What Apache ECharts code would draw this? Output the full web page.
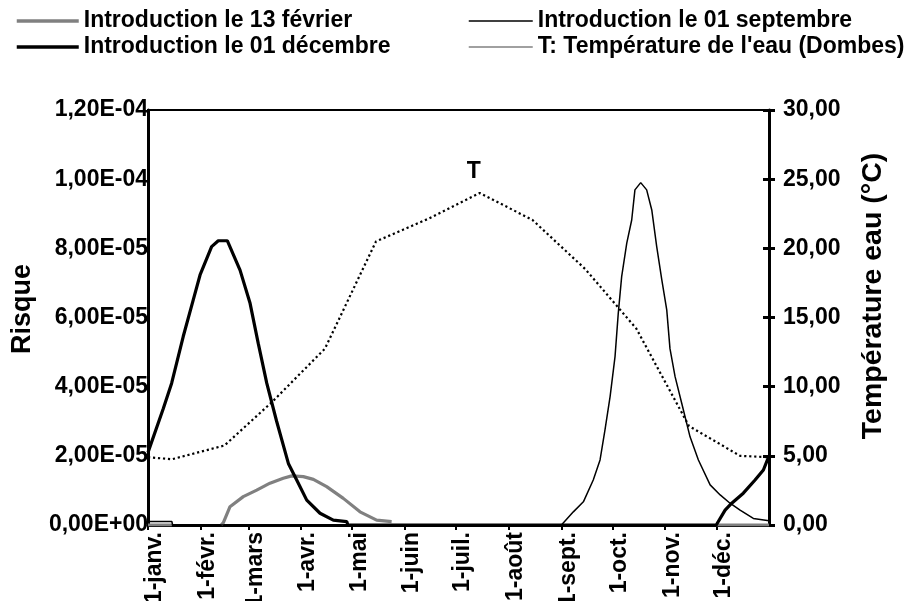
<!DOCTYPE html>
<html>
<head>
<meta charset="utf-8">
<script src="https://cdn.jsdelivr.net/npm/echarts@6/dist/echarts.min.js"></script>
<style>html,body{margin:0;padding:0;background:#fff}#c{width:920px;height:601px}</style>
</head>
<body>
<div id="c"></div>
<script>
// ---- data (days from 1 January; risk in units of 1e-5) ----
const monthStarts = [0, 31, 59, 90, 120, 151, 181, 212, 243, 273, 304, 334];
const monthLabels = ['1-janv.', '1-févr.', '1-mars', '1-avr.', '1-mai', '1-juin', '1-juil.', '1-août', '1-sept.', '1-oct.', '1-nov.', '1-déc.'];
const riskTickLabels = ['0,00E+00', '2,00E-05', '4,00E-05', '6,00E-05', '8,00E-05', '1,00E-04', '1,20E-04'];
const seriesNames = ['Introduction le 13 février', 'Introduction le 01 décembre', 'Introduction le 01 septembre', "T: Température de l'eau (Dombes)"];

// Introduction le 13 février (gray)
const febDays = [0, 14, 14, 43, 44.3, 48.2, 56, 63.9, 71.7, 79.5, 84.5, 91.3, 97.2, 105, 114.8, 124.6, 134.4, 143.2, 143.2, 334, 365];
const febRisk = [0, 0, null, 0, 0.07, 0.53, 0.82, 1.01, 1.21, 1.35, 1.42, 1.40, 1.32, 1.11, 0.77, 0.38, 0.14, 0.10, null, 0, 0];

// Introduction le 01 décembre (thick black)
const decDays = [0, 9, 13.9, 20.7, 26.6, 30.6, 37.4, 41.3, 46.6, 54.1, 60, 64.8, 69.8, 75.6, 82.5, 87.4, 93.3, 101.1, 108.9, 116.8, 117.5, 334, 339.2, 343.1, 349.9, 356.8, 361.7, 365];
const decRisk = [2.1, 3.37, 4.1, 5.45, 6.51, 7.23, 8.05, 8.22, 8.22, 7.37, 6.41, 5.25, 4.1, 3.0, 1.78, 1.3, 0.72, 0.34, 0.14, 0.1, 0, 0, 0.43, 0.63, 0.92, 1.3, 1.59, 2.0];

// Introduction le 01 septembre (thin black)
const sepDays = [0, 14, 14.5, 243, 250, 255.9, 261.7, 265.7, 268.6, 271.6, 274.5, 276.4, 278.4, 281.4, 284.3, 286.2, 289.6, 293.1, 296.1, 299, 302, 304.9, 306.8, 309.8, 313.7, 318.6, 323.5, 330.4, 336.3, 342.1, 348, 355.8, 365];
const sepRisk = [0.1, 0.1, 0, 0, 0.38, 0.67, 1.3, 1.88, 2.75, 3.71, 4.87, 6.12, 7.18, 8.15, 8.82, 9.69, 9.9, 9.69, 9.11, 8.05, 7.09, 6.22, 5.1, 4.29, 3.52, 2.55, 1.88, 1.16, 0.87, 0.63, 0.43, 0.19, 0.12];

// Water temperature (°C)
const tempDays = [0, 14, 45, 73, 104, 134, 165, 195, 226, 257, 287, 318, 348, 365];
const tempValues = [4.9, 4.75, 5.75, 8.9, 12.75, 20.5, 22.15, 24.0, 22.05, 18.5, 14.2, 7.15, 5.0, 4.9];

// ---- chart ----
const pair = (xs, ys) => xs.map((x, i) => [x, ys[i]]);
const FONT = 'Liberation Sans';
const txt = (size) => ({ fontFamily: FONT, fontWeight: 'bold', fontSize: size, color: '#000' });
const maxIdx = tempValues.indexOf(Math.max(...tempValues));
const hideSym = { opacity: 0 };

const chart = echarts.init(document.getElementById('c'), null, { renderer: 'canvas' });
chart.setOption({
  animation: false,
  backgroundColor: '#fff',
  textStyle: { fontFamily: FONT, fontWeight: 'bold' },
  legend: [
    { left: 15, top: 9, padding: 0, orient: 'vertical', itemWidth: 62, itemHeight: 14, itemGap: 2,
      itemStyle: hideSym,
      textStyle: Object.assign(txt(23), { lineHeight: 24 }),
      data: [{ name: seriesNames[0], itemStyle: hideSym, lineStyle: { color: '#808080', width: 3.5 } },
             { name: seriesNames[1], itemStyle: hideSym, lineStyle: { color: '#000', width: 3.5 } }] },
    { left: 468, top: 9, padding: 0, orient: 'vertical', itemWidth: 64, itemHeight: 14, itemGap: 2,
      itemStyle: hideSym,
      textStyle: Object.assign(txt(23), { lineHeight: 24 }),
      data: [{ name: seriesNames[2], itemStyle: hideSym, lineStyle: { color: '#000', width: 1.5 } },
             { name: seriesNames[3], itemStyle: hideSym, lineStyle: { type: 'solid', color: '#808080', width: 1.5 } }] }
  ],
  grid: { left: 148, right: 151, top: 110, bottom: 76, outerBoundsMode: 'none', containLabel: false,
          show: true, borderColor: '#000', borderWidth: 2, backgroundColor: 'transparent' },
  xAxis: {
    type: 'value', min: 0, max: 365,
    axisLine: { lineStyle: { color: '#000', width: 3 } },
    axisTick: { show: true, customValues: monthStarts, length: 5, lineStyle: { color: '#000', width: 2 } },
    axisLabel: Object.assign(txt(23), { customValues: monthStarts, rotate: 90, margin: 7,
      verticalAlign: 'top', lineHeight: 14,
      formatter: v => monthLabels[monthStarts.indexOf(v)] }),
    splitLine: { show: false }
  },
  yAxis: [
    { type: 'value', min: 0, max: 12, interval: 2, position: 'left',
      axisLine: { show: true, lineStyle: { color: '#000', width: 3 } },
      axisTick: { show: false },
      axisLabel: Object.assign(txt(23), { margin: 0, formatter: v => riskTickLabels[Math.round(v / 2)] }),
      splitLine: { show: false } },
    { type: 'value', min: 0, max: 30, interval: 5, position: 'right',
      axisLine: { show: true, lineStyle: { color: '#000', width: 3 } },
      axisTick: { show: true, length: 6, lineStyle: { color: '#000', width: 3 } },
      axisLabel: Object.assign(txt(23), { margin: 14, formatter: v => v.toFixed(2).replace('.', ',') }),
      splitLine: { show: false } },
    { type: 'value', min: 0, max: 30, interval: 5, position: 'right',
      axisLine: { show: false },
      axisTick: { show: true, inside: true, length: 6, lineStyle: { color: '#000', width: 3 } },
      axisLabel: { show: false }, splitLine: { show: false } }
  ],
  graphic: [
    { type: 'text', x: 23, y: 309, rotation: Math.PI / 2,
      style: { text: 'Risque', fontFamily: FONT, fontWeight: 'bold', fontSize: 27, fill: '#000', textAlign: 'center', textVerticalAlign: 'middle', align: 'center', verticalAlign: 'middle' } },
    { type: 'text', x: 873, y: 296, rotation: Math.PI / 2,
      style: { text: 'Température eau (°C)', fontFamily: FONT, fontWeight: 'bold', fontSize: 28.5, fill: '#000', textAlign: 'center', textVerticalAlign: 'middle', align: 'center', verticalAlign: 'middle' } }
  ],
  series: [
    { name: seriesNames[0], type: 'line', yAxisIndex: 0, symbol: 'none', connectNulls: false,
      lineStyle: { color: '#808080', width: 3.2 }, itemStyle: { color: '#808080' },
      data: pair(febDays, febRisk) },
    { name: seriesNames[1], type: 'line', yAxisIndex: 0, symbol: 'none',
      lineStyle: { color: '#000', width: 3.2 }, itemStyle: { color: '#000' },
      data: pair(decDays, decRisk) },
    { name: seriesNames[2], type: 'line', yAxisIndex: 0, symbol: 'none',
      lineStyle: { color: '#000', width: 1.5 }, itemStyle: { color: '#000' },
      data: pair(sepDays, sepRisk) },
    { name: seriesNames[3], type: 'line', yAxisIndex: 1, symbol: 'none',
      lineStyle: { color: '#000', width: 2.2, type: [2.2, 2.8] }, itemStyle: { color: '#000' },
      data: pair(tempDays, tempValues),
      markPoint: { symbol: 'circle', symbolSize: 0, silent: true,
        data: [{ coord: [tempDays[maxIdx], tempValues[maxIdx]],
          label: Object.assign(txt(23), { show: true, formatter: 'T', position: 'inside', offset: [-6, -21] }) }] } }
  ]
});
</script>
</body>
</html>
